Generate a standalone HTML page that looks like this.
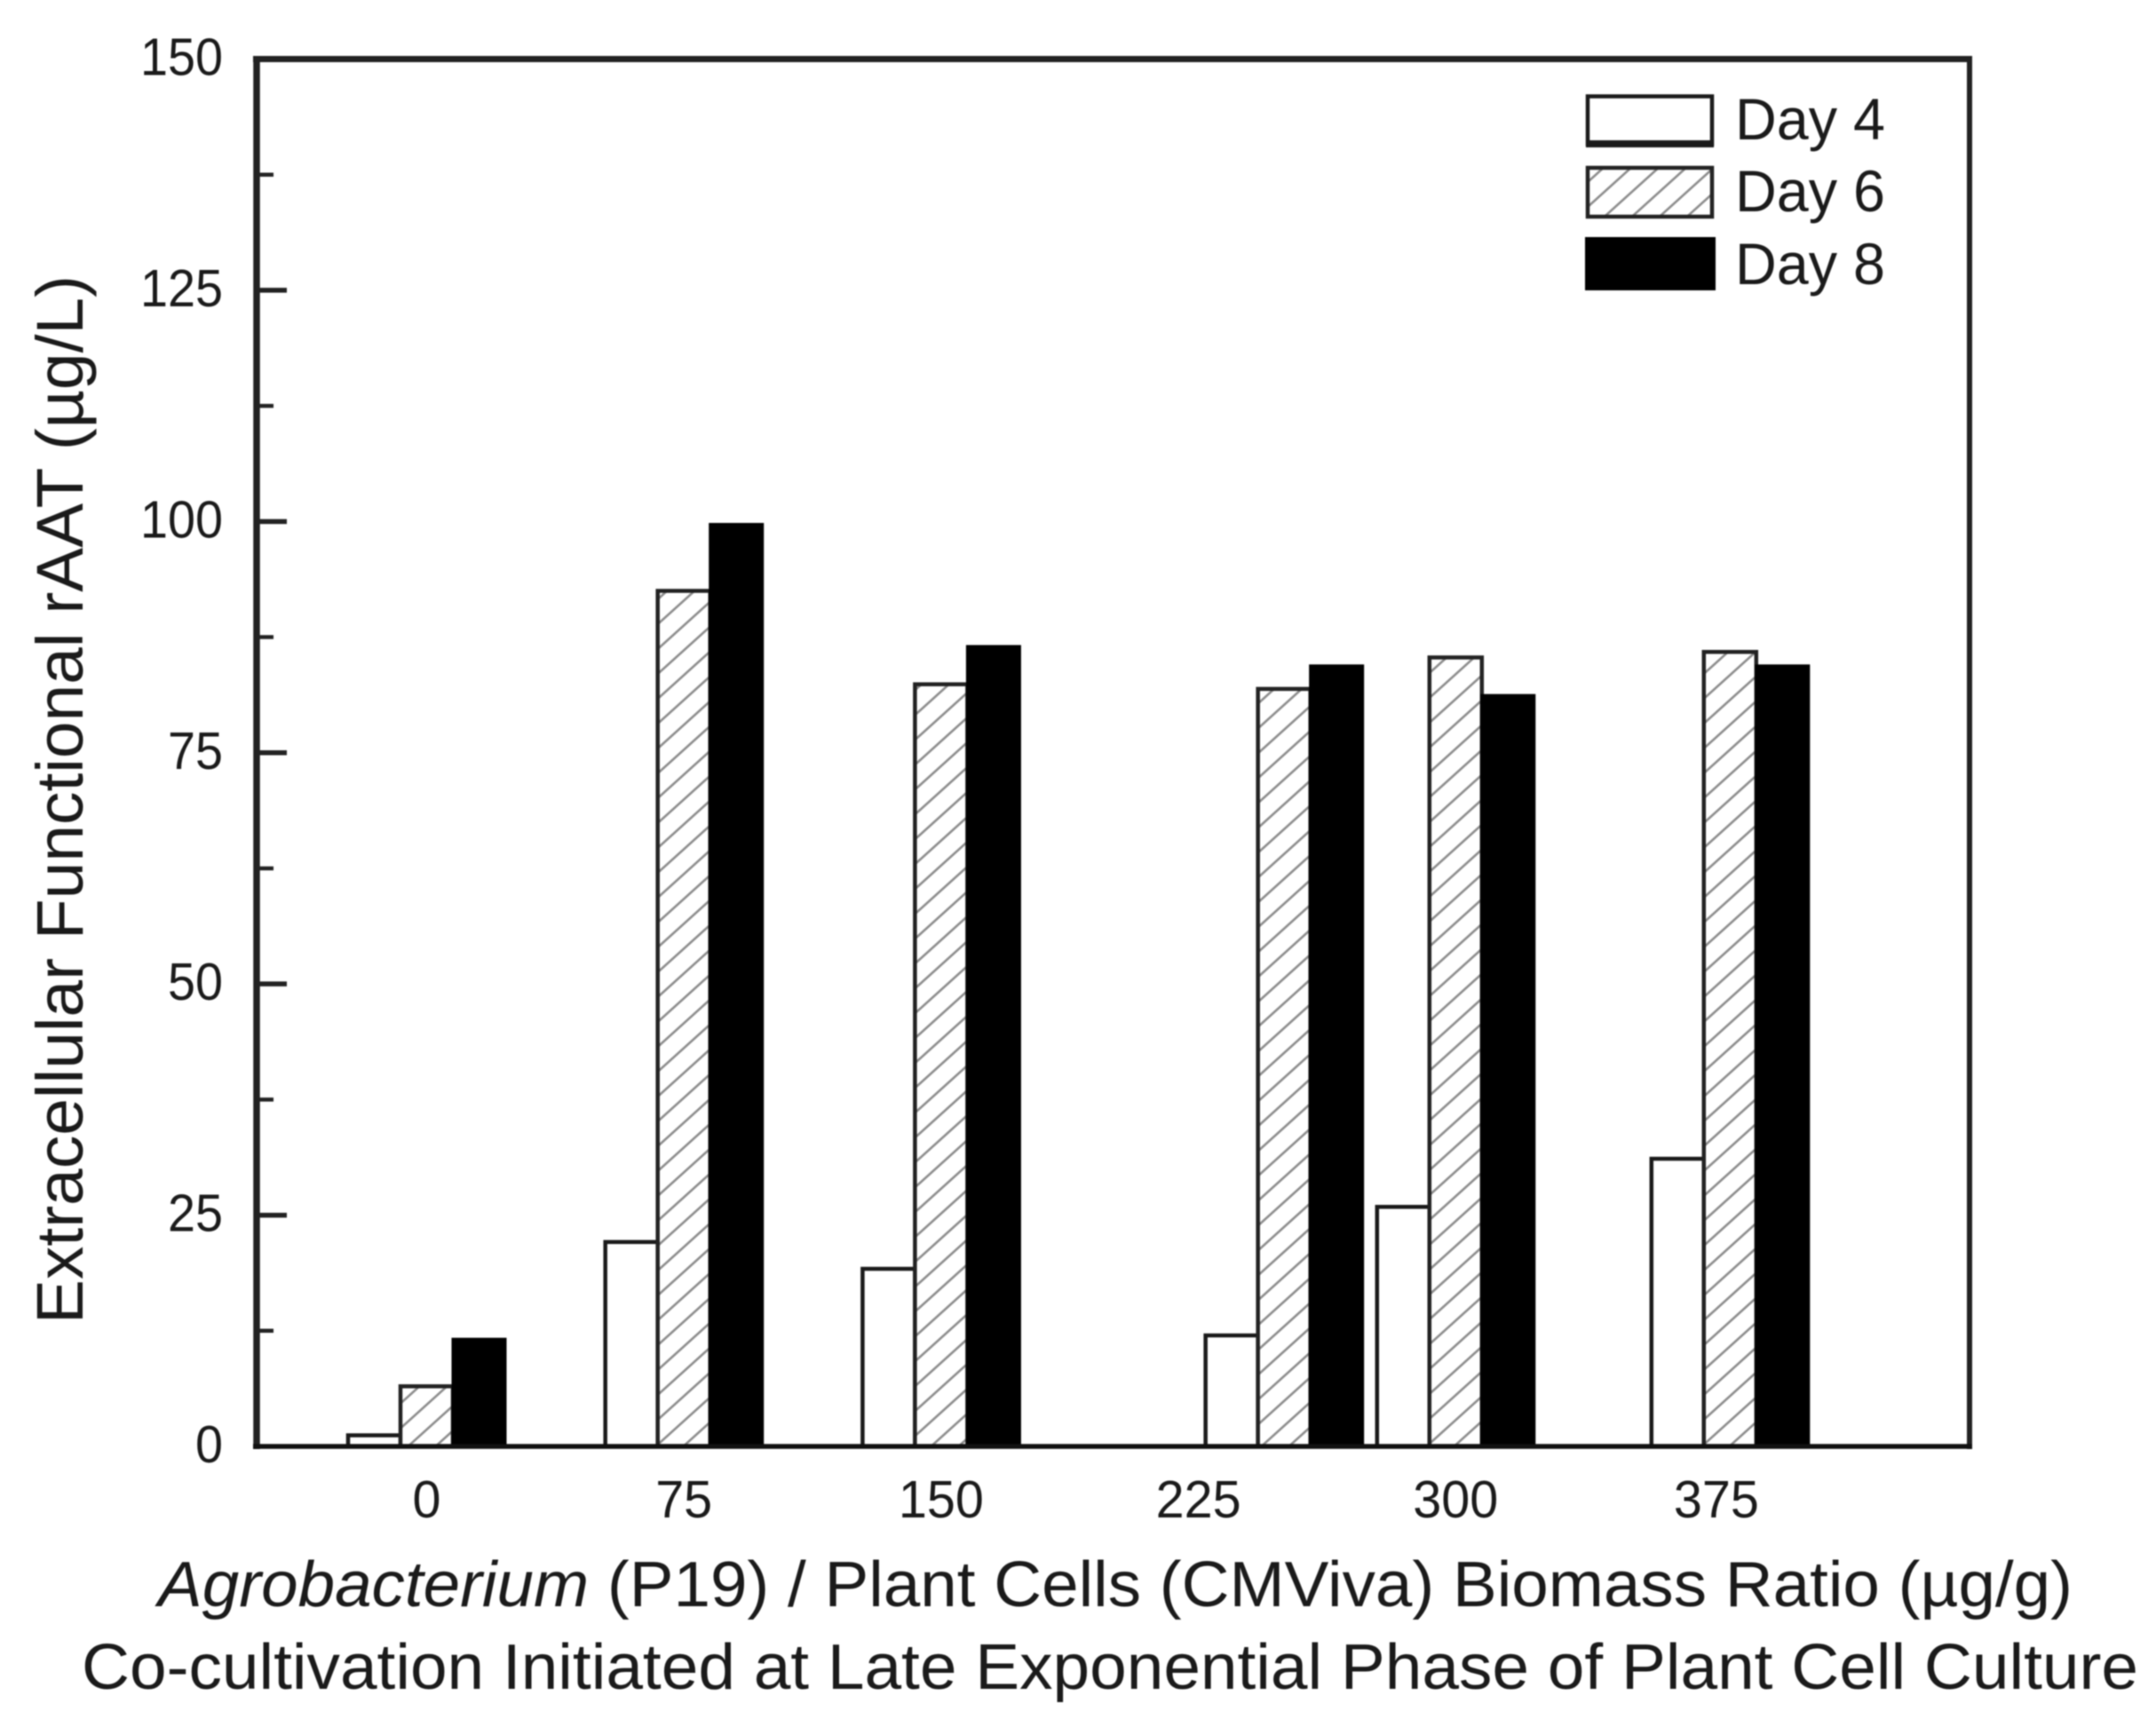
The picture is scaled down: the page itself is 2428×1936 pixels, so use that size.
<!DOCTYPE html>
<html lang="en">
<head>
<meta charset="utf-8">
<title>Extracellular Functional rAAT</title>
<style>
html,body{margin:0;padding:0;background:#fff;width:2428px;height:1936px;overflow:hidden}
svg{display:block;filter:blur(0.8px)}
text{font-family:"Liberation Sans",Arial,sans-serif;fill:#1a1a1a}
</style>
</head>
<body>
<svg id="chart" xmlns="http://www.w3.org/2000/svg" width="2428" height="1936" viewBox="0 0 2428 1936">
  <defs>
    <pattern id="hatch" patternUnits="userSpaceOnUse" width="31" height="28">
      <rect width="31" height="28" fill="#fff"/>
      <path d="M-7.75 7 L7.75 -7 M0 28 L31 0 M23.25 35 L38.75 21" stroke="#8c8c8c" stroke-width="2.6" fill="none"/>
    </pattern>
  </defs>
  <rect width="2428" height="1936" fill="#fff"/>
  <g id="bars"></g>
  <g id="yticks"></g>
  <g id="xlabels"></g>
  <g stroke="#222" fill="none">
    <line x1="285" y1="66.5" x2="2221" y2="66.5" stroke-width="7"/>
    <line x1="289" y1="63" x2="289" y2="1632" stroke-width="7.5"/>
    <line x1="2218" y1="63" x2="2218" y2="1632" stroke-width="6"/>
    <line x1="285" y1="1629" x2="2221" y2="1629" stroke="#111" stroke-width="5.5"/>
  </g>

  <text transform="translate(93,1491) rotate(-90)" font-size="74" textLength="1181" lengthAdjust="spacingAndGlyphs">Extracellular Functional rAAT (µg/L)</text>
  <text x="178" y="1809" font-size="72" textLength="2156" lengthAdjust="spacingAndGlyphs"><tspan font-style="italic">Agrobacterium</tspan> (P19) / Plant Cells (CMViva) Biomass Ratio (µg/g)</text>
  <text x="92" y="1902" font-size="72" textLength="2316" lengthAdjust="spacingAndGlyphs">Co-cultivation Initiated at Late Exponential Phase of Plant Cell Culture</text>

  <g>
    <rect x="1788" y="108.5" width="140" height="54" fill="#fff" stroke="#1a1a1a" stroke-width="4.5"/>
    <rect x="1786" y="158" width="144" height="8" fill="#1a1a1a"/>
    <text x="1954" y="157" font-size="66" textLength="169" lengthAdjust="spacingAndGlyphs">Day 4</text>
    <rect x="1788" y="189" width="140" height="55" fill="url(#hatch)" stroke="#222" stroke-width="4.5"/>
    <text x="1954" y="238" font-size="66" textLength="169" lengthAdjust="spacingAndGlyphs">Day 6</text>
    <rect x="1785" y="267" width="147" height="60" fill="#000"/>
    <text x="1954" y="320" font-size="66" textLength="169" lengthAdjust="spacingAndGlyphs">Day 8</text>
  </g>
</svg>
<script>
const categories = ["0", "75", "150", "225", "300", "375"];
const labelRatios = [0, 75, 150, 225, 300, 376];
const barGroupRatios = [0, 75, 150, 250, 300, 380];
const day4 = [1.2, 22.1, 19.2, 12, 25.9, 31.1];
const day6 = [6.5, 92.5, 82.4, 81.9, 85.3, 85.9];
const day8 = [11.6, 99.7, 86.5, 84.4, 81.2, 84.4];
const yMajorTicks = [0, 25, 50, 75, 100, 125, 150];
const yMinorTicks = [12.5, 37.5, 62.5, 87.5, 112.5, 137.5];

const NS = "http://www.w3.org/2000/svg";
function xScale(ratio) { return 480.5 + ratio * 289.7 / 75; }
function yScale(value) { return 1629 - value * (1562.5 / 150); }
const BAR_W = 59;

function drawBar(series, seriesIndex, fill, stroke, strokeWidth, key) {
  const g = document.getElementById("bars");
  series.forEach(function (v, i) {
    const cx = xScale(barGroupRatios[i]);
    const left = cx + (seriesIndex - 1.5) * BAR_W;
    const top = yScale(v);
    const r = document.createElementNS(NS, "rect");
    r.setAttribute("x", left);
    r.setAttribute("y", top);
    r.setAttribute("width", BAR_W);
    r.setAttribute("height", yScale(0) - top);
    r.setAttribute("fill", fill);
    r.setAttribute("stroke", stroke);
    r.setAttribute("stroke-width", strokeWidth);
    
    
    g.appendChild(r);
  });
}
drawBar(day4, 0, "#fff", "#1a1a1a", 4.5, "day-4");
drawBar(day6, 1, "url(#hatch)", "#222", 4.5, "day-6");
drawBar(day8, 2, "#000", "#000", 3, "day-8");

const tickGroup = document.getElementById("yticks");
yMajorTicks.forEach(function (t) {
  if (t !== 0 && t !== 150) {
    const l = document.createElementNS(NS, "line");
    l.setAttribute("x1", 289);
    l.setAttribute("x2", 323);
    l.setAttribute("y1", yScale(t));
    l.setAttribute("y2", yScale(t));
    l.setAttribute("stroke", "#222");
    l.setAttribute("stroke-width", 5.5);
    
    
    tickGroup.appendChild(l);
  }
  const txt = document.createElementNS(NS, "text");
  txt.setAttribute("x", 251);
  txt.setAttribute("y", yScale(t) + 18);
  txt.setAttribute("text-anchor", "end");
  txt.setAttribute("font-size", 59);
  txt.setAttribute("textLength", String(t).length * 31);
  txt.setAttribute("lengthAdjust", "spacingAndGlyphs");
  txt.textContent = String(t);
  
  
  tickGroup.appendChild(txt);
});
yMinorTicks.forEach(function (t) {
  const l = document.createElementNS(NS, "line");
  l.setAttribute("x1", 289);
  l.setAttribute("x2", 308);
  l.setAttribute("y1", yScale(t));
  l.setAttribute("y2", yScale(t));
  l.setAttribute("stroke", "#222");
  l.setAttribute("stroke-width", 4.5);
  
  
  tickGroup.appendChild(l);
});

const xGroup = document.getElementById("xlabels");
categories.forEach(function (c, i) {
  const txt = document.createElementNS(NS, "text");
  txt.setAttribute("x", xScale(labelRatios[i]));
  txt.setAttribute("y", 1709);
  txt.setAttribute("text-anchor", "middle");
  txt.setAttribute("font-size", 59);
  txt.setAttribute("textLength", c.length * 32);
  txt.setAttribute("lengthAdjust", "spacingAndGlyphs");
  txt.textContent = c;
  
  
  xGroup.appendChild(txt);
});
</script>
</body>
</html>
